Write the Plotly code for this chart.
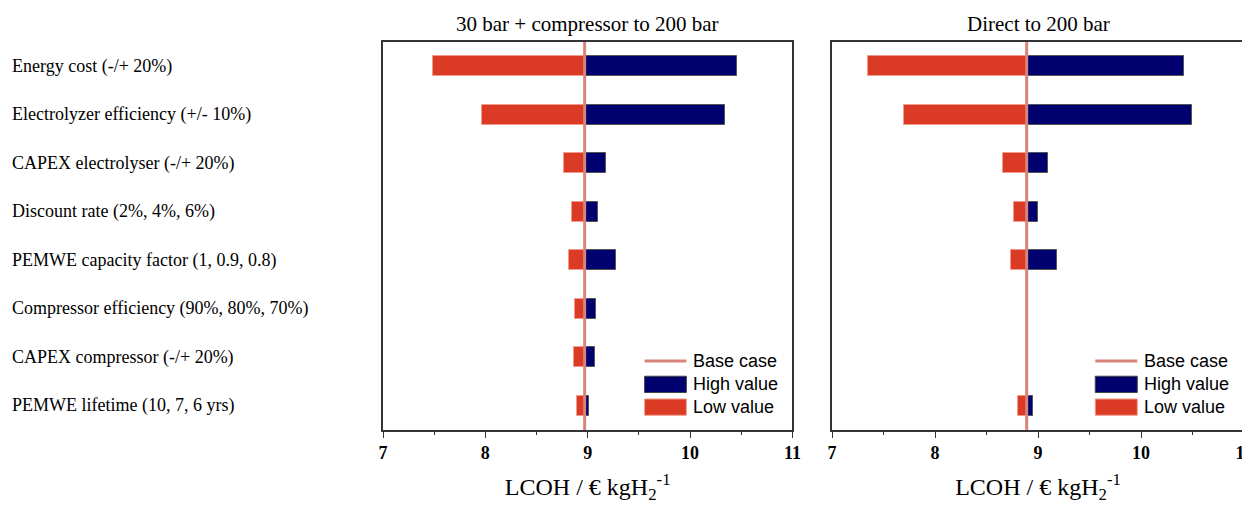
import plotly.graph_objects as go

categories = [
    "Energy cost (-/+ 20%)",
    "Electrolyzer efficiency (+/- 10%)",
    "CAPEX electrolyser (-/+ 20%)",
    "Discount rate (2%, 4%, 6%)",
    "PEMWE capacity factor (1, 0.9, 0.8)",
    "Compressor efficiency (90%, 80%, 70%)",
    "CAPEX compressor (-/+ 20%)",
    "PEMWE lifetime (10, 7, 6 yrs)",
]
panel_titles = ["30 bar + compressor to 200 bar", "Direct to 200 bar"]

base_comp = 8.97
low_comp = [7.49, 7.97, 8.77, 8.85, 8.82, 8.88, 8.87, 8.90]
high_comp = [10.46, 10.34, 9.18, 9.10, 9.28, 9.08, 9.07, 9.01]

base_direct = 8.89
low_direct = [7.35, 7.70, 8.66, 8.77, 8.74, None, None, 8.81]
high_direct = [10.42, 10.50, 9.10, 9.00, 9.18, None, None, 8.95]

x_ticks = [7, 8, 9, 10, 11]

RED = "#DB3B25"
NAVY = "#00006E"
BASE_COL = "#D9837A"
SERIF = "Times New Roman, Liberation Serif, serif"
SANS = "Arial, Liberation Sans, sans-serif"

# page body has an 8px margin; figure sized so the plot ends near the window edge
W, H = 1250, 497
ML, MR, MT, MB = 375, 14, 34, 75
PW = W - ML - MR

fig = go.Figure()

panels = [
    (base_comp, low_comp, high_comp, "x", "y", "x domain", "y domain"),
    (base_direct, low_direct, high_direct, "x2", "y2", "x2 domain", "y2 domain"),
]

for base, low, high, xa, ya, xd, yd in panels:
    lo_d = [None if v is None else v - base for v in low]
    hi_d = [None if v is None else v - base for v in high]
    fig.add_trace(go.Bar(
        y=categories, x=hi_d, base=base, orientation="h", width=0.42,
        marker=dict(color=NAVY, line=dict(color="#555555", width=1)),
        xaxis=xa, yaxis=ya, showlegend=False, name="High value"))
    fig.add_trace(go.Bar(
        y=categories, x=lo_d, base=base, orientation="h", width=0.42,
        marker=dict(color=RED, line=dict(color="#F29A8C", width=1)),
        xaxis=xa, yaxis=ya, showlegend=False, name="Low value"))
    # base case line
    fig.add_shape(type="line", xref=xa, yref=yd, x0=base, x1=base, y0=0, y1=1,
                  line=dict(color=BASE_COL, width=3), layer="above")
    # custom legend
    lx0, lx1, tx = 0.639, 0.741, 0.753
    rows = [0.178, 0.1176, 0.059]
    hh = 0.021
    fig.add_shape(type="line", xref=xd, yref=yd, x0=lx0, x1=lx1, y0=rows[0], y1=rows[0],
                  line=dict(color=BASE_COL, width=3))
    fig.add_shape(type="rect", xref=xd, yref=yd, x0=lx0, x1=lx1, y0=rows[1] - hh, y1=rows[1] + hh,
                  fillcolor=NAVY, line=dict(color="#444444", width=1))
    fig.add_shape(type="rect", xref=xd, yref=yd, x0=lx0, x1=lx1, y0=rows[2] - hh, y1=rows[2] + hh,
                  fillcolor=RED, line=dict(color="#F29A8C", width=1))
    for r, t in zip(rows, ["Base case", "High value", "Low value"]):
        fig.add_annotation(xref=xd, yref=yd, x=tx, y=r, text=t, showarrow=False,
                           xanchor="left", yanchor="middle",
                           font=dict(family=SANS, size=18, color="black"))

for i, t in enumerate(panel_titles):
    xd = "x domain" if i == 0 else "x2 domain"
    fig.add_annotation(xref=xd, yref="paper", x=0.5, y=1.047, text=t, showarrow=False,
                       xanchor="center", yanchor="middle",
                       font=dict(family=SERIF, size=21, color="black"))

for c in categories:
    fig.add_annotation(xref="paper", yref="y", x=(2 - ML) / PW, y=c, text=c,
                       showarrow=False, xanchor="left", yanchor="middle",
                       font=dict(family=SERIF, size=18, color="black"))

xaxis_common = dict(
    range=[7, 11], tickvals=x_ticks, ticktext=[str(v) for v in x_ticks],
    ticks="outside", ticklen=6, tickwidth=1, tickcolor="#333333",
    minor=dict(dtick=0.5, ticks="outside", ticklen=3, tickcolor="#333333", showgrid=False),
    showline=True, linecolor="#333333", linewidth=1.5, mirror=True,
    showgrid=False, zeroline=False, automargin=False,
    tickfont=dict(family=SERIF, size=18, color="black", weight="bold"),
    title=dict(text="LCOH / € kgH<sub>2</sub><sup>-1</sup>",
               font=dict(family=SERIF, size=24, color="black"), standoff=16),
)
yaxis_common = dict(
    categoryorder="array", categoryarray=categories, range=[7.5, -0.5],
    showticklabels=False, ticks="", showline=True, linecolor="#333333", linewidth=1.5,
    mirror=True, showgrid=False, zeroline=False, automargin=False,
)

fig.update_layout(
    width=W, height=H,
    margin=dict(l=ML, r=MR, t=MT, b=MB, autoexpand=False),
    paper_bgcolor="white", plot_bgcolor="white",
    barmode="overlay", bargap=0,
    xaxis=dict(domain=[0, 0.4755], anchor="y", **xaxis_common),
    xaxis2=dict(domain=[0.5215, 1.0], anchor="y2", **xaxis_common),
    yaxis=dict(domain=[0, 1], anchor="x", **yaxis_common),
    yaxis2=dict(domain=[0, 1], anchor="x2", **yaxis_common),
)

fig.write_html("out.html")
